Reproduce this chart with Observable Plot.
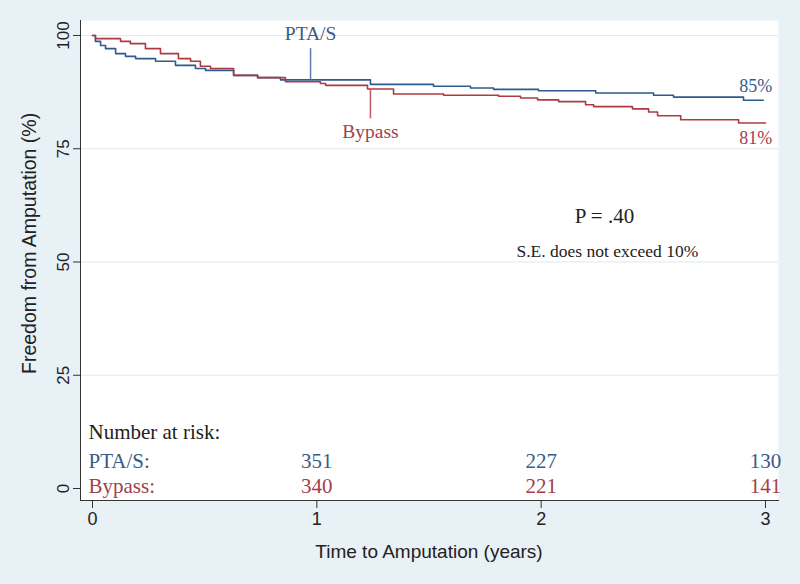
<!DOCTYPE html>
<html><head><meta charset="utf-8">
<script src="https://cdn.jsdelivr.net/npm/d3@7"></script>
<script src="https://cdn.jsdelivr.net/npm/@observablehq/plot@0.6"></script>
<style>
html,body{margin:0;padding:0;background:#e8f1f5;}
</style></head><body><div id="chart"></div>
<script>
// Kaplan-Meier estimates (time in years, freedom from amputation in %)
const ptaTime = [0, 0.013, 0.036, 0.058, 0.103, 0.147, 0.192, 0.281, 0.370, 0.459, 0.504, 0.629, 0.736, 0.838, 1.239, 1.520, 1.685, 1.788, 1.988, 2.243, 2.501, 2.590, 2.902, 2.99];
const ptaSurv = [100, 98.7, 97.8, 97.1, 96.0, 95.4, 94.9, 94.3, 93.4, 92.7, 92.3, 91.2, 90.7, 90.2, 89.2, 88.8, 88.4, 88.1, 87.8, 87.3, 86.8, 86.4, 85.7, 85.7];
const bypTime = [0, 0.013, 0.125, 0.169, 0.236, 0.303, 0.383, 0.437, 0.481, 0.526, 0.629, 0.736, 0.860, 1.016, 1.039, 1.226, 1.342, 1.565, 1.810, 1.908, 1.984, 2.078, 2.198, 2.234, 2.407, 2.479, 2.519, 2.622, 2.880, 3.0];
const bypSurv = [100, 99.3, 98.7, 98.2, 97.1, 96.0, 94.9, 94.3, 93.2, 92.7, 91.2, 90.7, 89.8, 89.4, 89.0, 88.2, 87.1, 86.8, 86.6, 86.2, 85.8, 85.4, 84.7, 84.3, 83.8, 83.1, 82.3, 81.4, 80.7, 80.7];

// End-of-follow-up labels
const endLabels = ["85%", "81%"];

// Number at risk table
const riskTimes = [1, 2, 3];
const ptaRisk = [351, 227, 130];
const bypRisk = [340, 221, 141];
const groupNames = ["PTA/S", "Bypass"];

// Axis ticks
const xTicks = [0, 1, 2, 3];
const yTicks = [0, 25, 50, 75, 100];

const blue = "#2f5a8f", red = "#ad3a41";
const blueText = "#3a5a88", redText = "#a3404a";
const serif = "'Liberation Serif', 'DejaVu Serif', serif";
const sans = "'Liberation Sans', Arial, sans-serif";

const pta = ptaTime.map((t, i) => ({t, s: ptaSurv[i]}));
const byp = bypTime.map((t, i) => ({t, s: bypSurv[i]}));

const chart = Plot.plot({
  width: 800, height: 584,
  marginLeft: 80, marginRight: 22, marginTop: 20, marginBottom: 84,
  style: {background: "#e8f1f5", fontFamily: sans, fontSize: "17px", color: "#222"},
  x: {domain: [-0.0535, 3.058]},
  y: {domain: [-2.649, 103.311]},
  marks: [
    Plot.frame({fill: "white", stroke: "none"}),
    Plot.gridY(yTicks.filter(d => d > 0), {stroke: "#dfe9ee", strokeOpacity: 1, strokeWidth: 1}),
    Plot.axisX(xTicks, {tickSize: 8, tickPadding: 4, fontSize: 18, stroke: "#333", tickFormat: d => String(d), label: null}),
    Plot.axisY(yTicks, {tickSize: 7, tickPadding: 5, tickRotate: -90, fontSize: 17, stroke: "#333", tickFormat: d => String(d), label: null}),
    Plot.frame({anchor: "left", stroke: "#333"}),
    Plot.frame({anchor: "bottom", stroke: "#333"}),
    Plot.text(["Time to Amputation (years)"], {x: 1.5, y: -14.1, fontSize: 19, fontFamily: sans, fill: "#222"}),
    Plot.text(["Freedom from Amputation (%)"], {x: -0.28, y: 54.1, rotate: -90, fontSize: 19.5, fontFamily: sans, fill: "#222"}),
    Plot.line(pta, {x: "t", y: "s", curve: "step-after", stroke: blue, strokeWidth: 1.6}),
    Plot.line(byp, {x: "t", y: "s", curve: "step-after", stroke: red, strokeWidth: 1.6}),
    // pointer lines and labels
    Plot.ruleX([0.972], {y1: 97.1, y2: 90.2, stroke: "#5b7eab", strokeWidth: 1.5}),
    Plot.ruleX([1.239], {y1: 88.2, y2: 81.6, stroke: "#c0585e", strokeWidth: 1.5}),
    Plot.text([groupNames[0]], {x: 0.972, y: 100.4, fontSize: 19.5, fontFamily: serif, fill: blueText}),
    Plot.text([groupNames[1]], {x: 1.239, y: 78.8, fontSize: 19.5, fontFamily: serif, fill: redText}),
    Plot.text([endLabels[0]], {x: 3.03, y: 88.8, textAnchor: "end", fontSize: 18, fontFamily: serif, fill: blueText}),
    Plot.text([endLabels[1]], {x: 3.03, y: 77.3, textAnchor: "end", fontSize: 18, fontFamily: serif, fill: redText}),
    Plot.text(["P = .40"], {x: 2.282, y: 60.2, fontSize: 21, fontFamily: serif, fill: "#222"}),
    Plot.text(["S.E. does not exceed 10%"], {x: 2.295, y: 52.3, fontSize: 17.5, fontFamily: serif, fill: "#222"}),
    // number at risk
    Plot.text(["Number at risk:"], {x: -0.018, y: 12.5, textAnchor: "start", fontSize: 21, fontFamily: serif, fill: "#222"}),
    Plot.text([groupNames[0] + ":"], {x: -0.018, y: 6.1, textAnchor: "start", fontSize: 21, fontFamily: serif, fill: blueText}),
    Plot.text([groupNames[1] + ":"], {x: -0.018, y: 0.4, textAnchor: "start", fontSize: 21, fontFamily: serif, fill: redText}),
    Plot.text(ptaRisk, {x: riskTimes, y: 6.1, text: d => d, fontSize: 21, fontFamily: serif, fill: blueText}),
    Plot.text(bypRisk, {x: riskTimes, y: 0.4, text: d => d, fontSize: 21, fontFamily: serif, fill: redText})
  ]
});
document.getElementById("chart").appendChild(chart);
</script>
</body></html>
